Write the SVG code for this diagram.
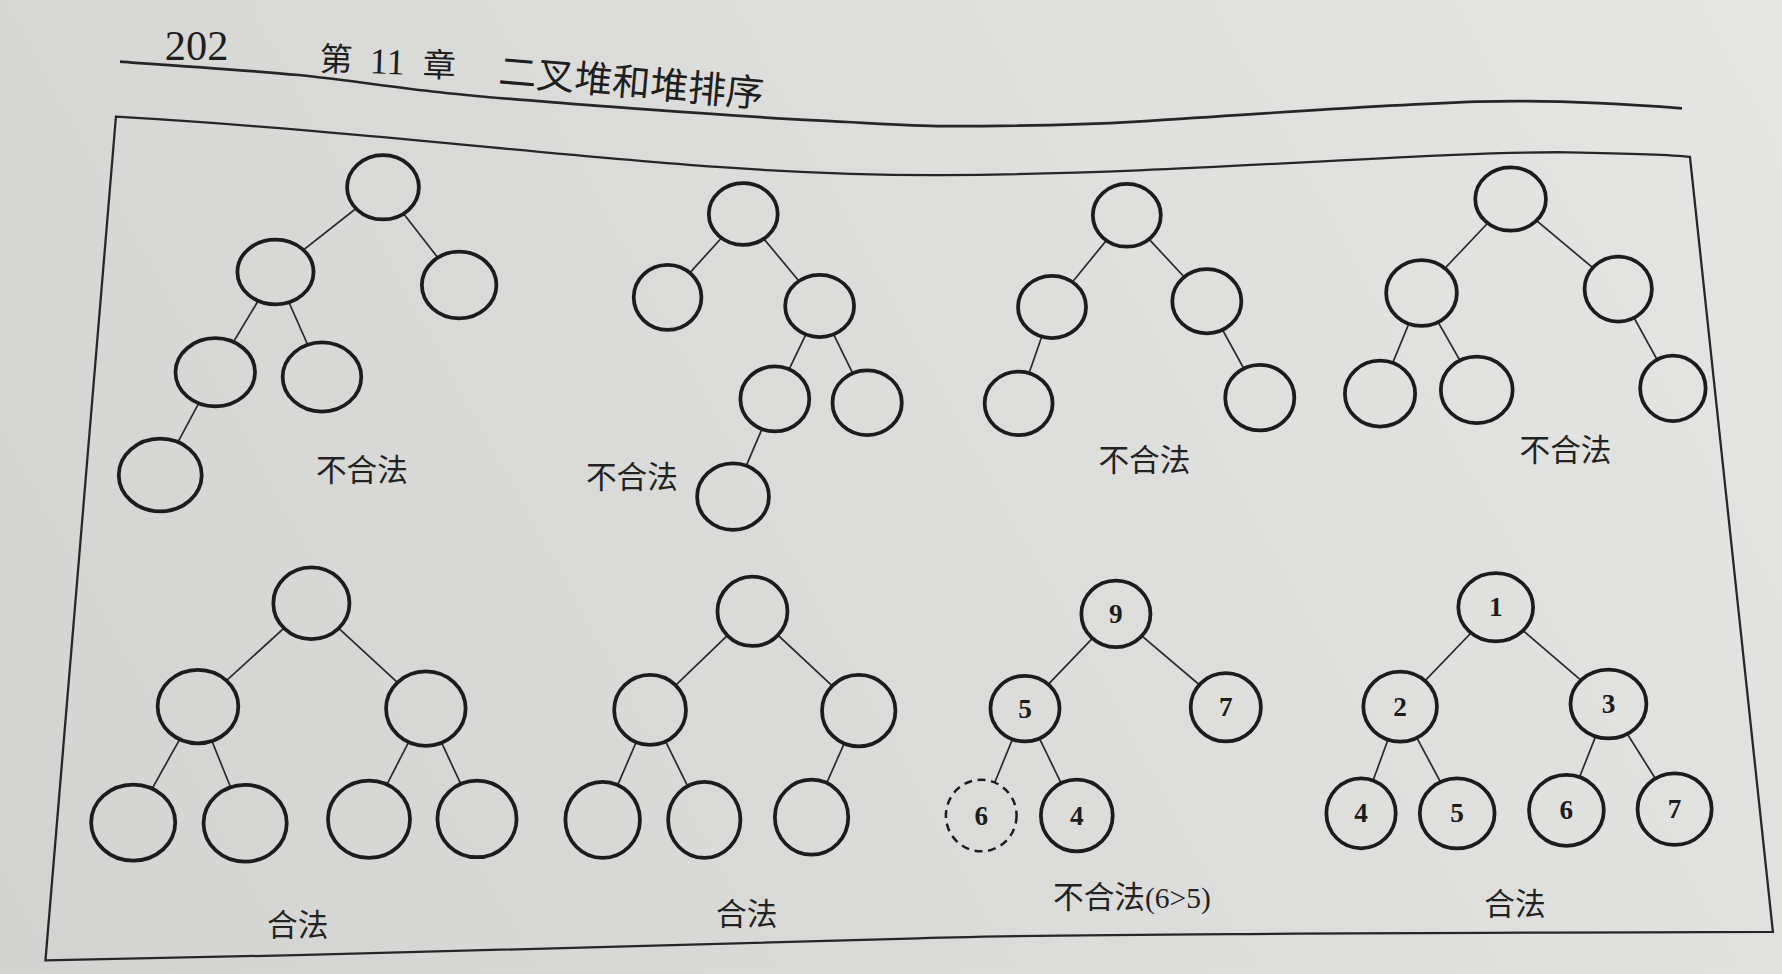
<svg xmlns="http://www.w3.org/2000/svg" width="1782" height="974" viewBox="0 0 1782 974">
<defs>
<linearGradient id="paper" gradientUnits="userSpaceOnUse" x1="0" y1="857" x2="1568" y2="0">
<stop offset="0" stop-color="#d3d3d1"/>
<stop offset="0.5" stop-color="#dcdcda"/>
<stop offset="1" stop-color="#e5e5e3"/>
</linearGradient>
<style>
.node{fill:url(#paper);stroke:#1c1c1c;stroke-width:3.3}
.dash{fill:url(#paper);stroke:#1c1c1c;stroke-width:2.2;stroke-dasharray:7 5}
.edge{stroke:#2a2a2a;stroke-width:1.5;fill:none}
.frame{stroke:#262626;stroke-width:2;fill:none}
.hline{stroke:#262626;stroke-width:2.4;fill:none}
.num{font-family:"Liberation Serif","Noto Sans CJK SC",serif;font-weight:bold;font-size:24px;fill:#1c1c1c;text-anchor:middle}
.lbl{font-family:"Noto Sans CJK SC","Noto Sans CJK JP",sans-serif;font-size:27px;fill:#222;text-anchor:middle}
.hdr{font-family:"Liberation Serif","Noto Sans CJK SC",serif;fill:#1e1e1e}
.hdrc{font-family:"Noto Sans CJK SC","Noto Sans CJK JP",sans-serif;fill:#1e1e1e}
</style>
</defs>
<g transform="scale(1.13648)">
<rect x="0" y="0" width="1568" height="857" fill="url(#paper)"/>
<g id="header">
<text class="hdr" x="145" y="53" font-size="38" textLength="56" lengthAdjust="spacingAndGlyphs">202</text>
<g transform="rotate(2 281 62)">
<text class="hdrc" x="281" y="62" font-size="29">第</text>
<text class="hdr" x="325" y="63" font-size="32" textLength="31" lengthAdjust="spacingAndGlyphs">11</text>
<text class="hdrc" x="372" y="64" font-size="29">章</text>
</g>
<g transform="rotate(5 438 74)">
<text class="hdrc" x="438" y="74" font-size="33" textLength="234" lengthAdjust="spacingAndGlyphs">二叉堆和堆排序</text>
</g>
<path class="hline" d="M105.6,54.3 C160,58 220,62 262.7,66 C310,71 340,76 380.5,80.5 C420,85 460,88 498,91 C580,97 650,102.5 718,106 C770,108.5 800,111 830,111 C900,111 950,110 1000,107 C1100,101 1200,93 1300,89.5 C1350,88 1400,89 1480,95.3"/>
</g>
<g id="frame">
<path class="frame" d="M102,102.7 C400,120 600,155 830,154 C1050,153 1250,133 1380,134 C1440,135 1470,136 1487,138 L1560,820 C1200,821 900,822 800,826 C600,833 300,840 40,845 Z"/>
</g>
<g id="connectors">
<line class="edge" x1="337" y1="164.8" x2="242.4" y2="239.3"/>
<line class="edge" x1="337" y1="164.8" x2="404" y2="250.8"/>
<line class="edge" x1="242.4" y1="239.3" x2="189.4" y2="327.6"/>
<line class="edge" x1="242.4" y1="239.3" x2="283.3" y2="331.7"/>
<line class="edge" x1="189.4" y1="327.6" x2="141" y2="418"/>
<line class="edge" x1="654" y1="188.3" x2="587.4" y2="261.6"/>
<line class="edge" x1="654" y1="188.3" x2="721.2" y2="269.2"/>
<line class="edge" x1="721.2" y1="269.2" x2="681.8" y2="351"/>
<line class="edge" x1="721.2" y1="269.2" x2="763" y2="354.3"/>
<line class="edge" x1="681.8" y1="351" x2="645" y2="437"/>
<line class="edge" x1="991.5" y1="189.5" x2="925.7" y2="270.1"/>
<line class="edge" x1="991.5" y1="189.5" x2="1061.9" y2="265.1"/>
<line class="edge" x1="925.7" y1="270.1" x2="896.3" y2="354.9"/>
<line class="edge" x1="1061.9" y1="265.1" x2="1108.5" y2="349.9"/>
<line class="edge" x1="1329.2" y1="175.1" x2="1250.8" y2="257.8"/>
<line class="edge" x1="1329.2" y1="175.1" x2="1423.9" y2="254.3"/>
<line class="edge" x1="1250.8" y1="257.8" x2="1214.3" y2="346.4"/>
<line class="edge" x1="1250.8" y1="257.8" x2="1299.4" y2="343.1"/>
<line class="edge" x1="1423.9" y1="254.3" x2="1472" y2="341.7"/>
<line class="edge" x1="274" y1="530.8" x2="174.2" y2="621.7"/>
<line class="edge" x1="274" y1="530.8" x2="374.7" y2="623.5"/>
<line class="edge" x1="174.2" y1="621.7" x2="117.2" y2="723.8"/>
<line class="edge" x1="174.2" y1="621.7" x2="215.7" y2="724.4"/>
<line class="edge" x1="374.7" y1="623.5" x2="324.7" y2="720.9"/>
<line class="edge" x1="374.7" y1="623.5" x2="419.7" y2="720.6"/>
<line class="edge" x1="662.1" y1="537.9" x2="572" y2="624.7"/>
<line class="edge" x1="662.1" y1="537.9" x2="755.6" y2="625.3"/>
<line class="edge" x1="572" y1="624.7" x2="530.3" y2="721.4"/>
<line class="edge" x1="572" y1="624.7" x2="619.7" y2="721.4"/>
<line class="edge" x1="755.6" y1="625.3" x2="714.1" y2="719.1"/>
<line class="edge" x1="981.9" y1="540.2" x2="901.9" y2="623.5"/>
<line class="edge" x1="981.9" y1="540.2" x2="1078.6" y2="622.3"/>
<line class="edge" x1="901.9" y1="623.5" x2="863.4" y2="717.6"/>
<line class="edge" x1="901.9" y1="623.5" x2="947.5" y2="717.6"/>
<line class="edge" x1="1316.1" y1="534.3" x2="1232" y2="621.7"/>
<line class="edge" x1="1316.1" y1="534.3" x2="1415.3" y2="619.4"/>
<line class="edge" x1="1232" y1="621.7" x2="1197.6" y2="715.6"/>
<line class="edge" x1="1232" y1="621.7" x2="1282.2" y2="715.6"/>
<line class="edge" x1="1415.3" y1="619.4" x2="1378.3" y2="713"/>
<line class="edge" x1="1415.3" y1="619.4" x2="1473.5" y2="712"/>
</g>
<g id="t1-root"><ellipse class="node" cx="337" cy="164.8" rx="31.6" ry="28.3"/></g>
<g id="t1-l"><ellipse class="node" cx="242.4" cy="239.3" rx="33.5" ry="28.5"/></g>
<g id="t1-r"><ellipse class="node" cx="404" cy="250.8" rx="32.8" ry="29.3"/></g>
<g id="t1-ll"><ellipse class="node" cx="189.4" cy="327.6" rx="35" ry="30"/></g>
<g id="t1-lr"><ellipse class="node" cx="283.3" cy="331.7" rx="34.6" ry="30.4"/></g>
<g id="t1-lll"><ellipse class="node" cx="141" cy="418" rx="36.5" ry="32"/></g>
<g id="t1-label"><text class="lbl" x="318.5" y="423">不合法</text></g>
<g id="t2-root"><ellipse class="node" cx="654" cy="188.3" rx="30.3" ry="27.1"/></g>
<g id="t2-l"><ellipse class="node" cx="587.4" cy="261.6" rx="29.8" ry="28.6"/></g>
<g id="t2-r"><ellipse class="node" cx="721.2" cy="269.2" rx="30.3" ry="27.4"/></g>
<g id="t2-rl"><ellipse class="node" cx="681.8" cy="351" rx="30.3" ry="28.6"/></g>
<g id="t2-rr"><ellipse class="node" cx="763" cy="354.3" rx="30.5" ry="28.5"/></g>
<g id="t2-rll"><ellipse class="node" cx="645" cy="437" rx="31.6" ry="29.3"/></g>
<g id="t2-label"><text class="lbl" x="556" y="429">不合法</text></g>
<g id="t3-root"><ellipse class="node" cx="991.5" cy="189.5" rx="29.9" ry="27.6"/></g>
<g id="t3-l"><ellipse class="node" cx="925.7" cy="270.1" rx="29.9" ry="27.4"/></g>
<g id="t3-r"><ellipse class="node" cx="1061.9" cy="265.1" rx="30.4" ry="28.2"/></g>
<g id="t3-ll"><ellipse class="node" cx="896.3" cy="354.9" rx="29.9" ry="27.9"/></g>
<g id="t3-rr"><ellipse class="node" cx="1108.5" cy="349.9" rx="30.4" ry="28.9"/></g>
<g id="t3-label"><text class="lbl" x="1007" y="414">不合法</text></g>
<g id="t4-root"><ellipse class="node" cx="1329.2" cy="175.1" rx="31.1" ry="27.9"/></g>
<g id="t4-l"><ellipse class="node" cx="1250.8" cy="257.8" rx="31.1" ry="29"/></g>
<g id="t4-r"><ellipse class="node" cx="1423.9" cy="254.3" rx="29.6" ry="28.6"/></g>
<g id="t4-ll"><ellipse class="node" cx="1214.3" cy="346.4" rx="30.9" ry="29"/></g>
<g id="t4-lr"><ellipse class="node" cx="1299.4" cy="343.1" rx="31.6" ry="29.3"/></g>
<g id="t4-rr"><ellipse class="node" cx="1472" cy="341.7" rx="28.8" ry="28.8"/></g>
<g id="t4-label"><text class="lbl" x="1377.5" y="405.5">不合法</text></g>
<g id="t5-root"><ellipse class="node" cx="274" cy="530.8" rx="33.5" ry="31.5"/></g>
<g id="t5-l"><ellipse class="node" cx="174.2" cy="621.7" rx="35.5" ry="32.3"/></g>
<g id="t5-r"><ellipse class="node" cx="374.7" cy="623.5" rx="35" ry="32.7"/></g>
<g id="t5-ll"><ellipse class="node" cx="117.2" cy="723.8" rx="37" ry="33.5"/></g>
<g id="t5-lr"><ellipse class="node" cx="215.7" cy="724.4" rx="36.6" ry="33.7"/></g>
<g id="t5-rl"><ellipse class="node" cx="324.7" cy="720.9" rx="36.1" ry="34"/></g>
<g id="t5-rr"><ellipse class="node" cx="419.7" cy="720.6" rx="34.8" ry="33.7"/></g>
<g id="t5-label"><text class="lbl" x="262" y="823.5">合法</text></g>
<g id="t6-root"><ellipse class="node" cx="662.1" cy="537.9" rx="30.8" ry="30.5"/></g>
<g id="t6-l"><ellipse class="node" cx="572" cy="624.7" rx="31.6" ry="30.8"/></g>
<g id="t6-r"><ellipse class="node" cx="755.6" cy="625.3" rx="32.3" ry="31.5"/></g>
<g id="t6-ll"><ellipse class="node" cx="530.3" cy="721.4" rx="32.8" ry="33.5"/></g>
<g id="t6-lr"><ellipse class="node" cx="619.7" cy="721.4" rx="31.8" ry="33.5"/></g>
<g id="t6-rl"><ellipse class="node" cx="714.1" cy="719.1" rx="32.3" ry="33"/></g>
<g id="t6-label"><text class="lbl" x="657" y="813.5">合法</text></g>
<g id="t7-9"><ellipse class="node" cx="981.9" cy="540.2" rx="30.4" ry="29.3"/><text class="num" x="981.9" y="548.2">9</text></g>
<g id="t7-5"><ellipse class="node" cx="901.9" cy="623.5" rx="30.4" ry="28.9"/><text class="num" x="901.9" y="631.5">5</text></g>
<g id="t7-7"><ellipse class="node" cx="1078.6" cy="622.3" rx="30.9" ry="30.1"/><text class="num" x="1078.6" y="630.3">7</text></g>
<g id="t7-6"><ellipse class="dash" cx="863.4" cy="717.6" rx="31.1" ry="31.5"/><text class="num" x="863.4" y="725.6">6</text></g>
<g id="t7-4"><ellipse class="node" cx="947.5" cy="717.6" rx="31.6" ry="31.5"/><text class="num" x="947.5" y="725.6">4</text></g>
<g id="t7-label"><text class="lbl" x="996" y="799">不合法<tspan font-family="Liberation Serif" font-size="26">(6&gt;5)</tspan></text></g>
<g id="t8-1"><ellipse class="node" cx="1316.1" cy="534.3" rx="32.9" ry="30"/><text class="num" x="1316.1" y="542.3">1</text></g>
<g id="t8-2"><ellipse class="node" cx="1232" cy="621.7" rx="32.4" ry="30.8"/><text class="num" x="1232" y="629.7">2</text></g>
<g id="t8-3"><ellipse class="node" cx="1415.3" cy="619.4" rx="33.4" ry="30.3"/><text class="num" x="1415.3" y="627.4">3</text></g>
<g id="t8-4"><ellipse class="node" cx="1197.6" cy="715.6" rx="30.5" ry="30.8"/><text class="num" x="1197.6" y="723.6">4</text></g>
<g id="t8-5"><ellipse class="node" cx="1282.2" cy="715.6" rx="32.9" ry="30.8"/><text class="num" x="1282.2" y="723.6">5</text></g>
<g id="t8-6"><ellipse class="node" cx="1378.3" cy="713" rx="32.9" ry="31.2"/><text class="num" x="1378.3" y="721">6</text></g>
<g id="t8-7"><ellipse class="node" cx="1473.5" cy="712" rx="32.6" ry="31.5"/><text class="num" x="1473.5" y="720">7</text></g>
<g id="t8-label"><text class="lbl" x="1333" y="805.5">合法</text></g>
</g>
</svg>
